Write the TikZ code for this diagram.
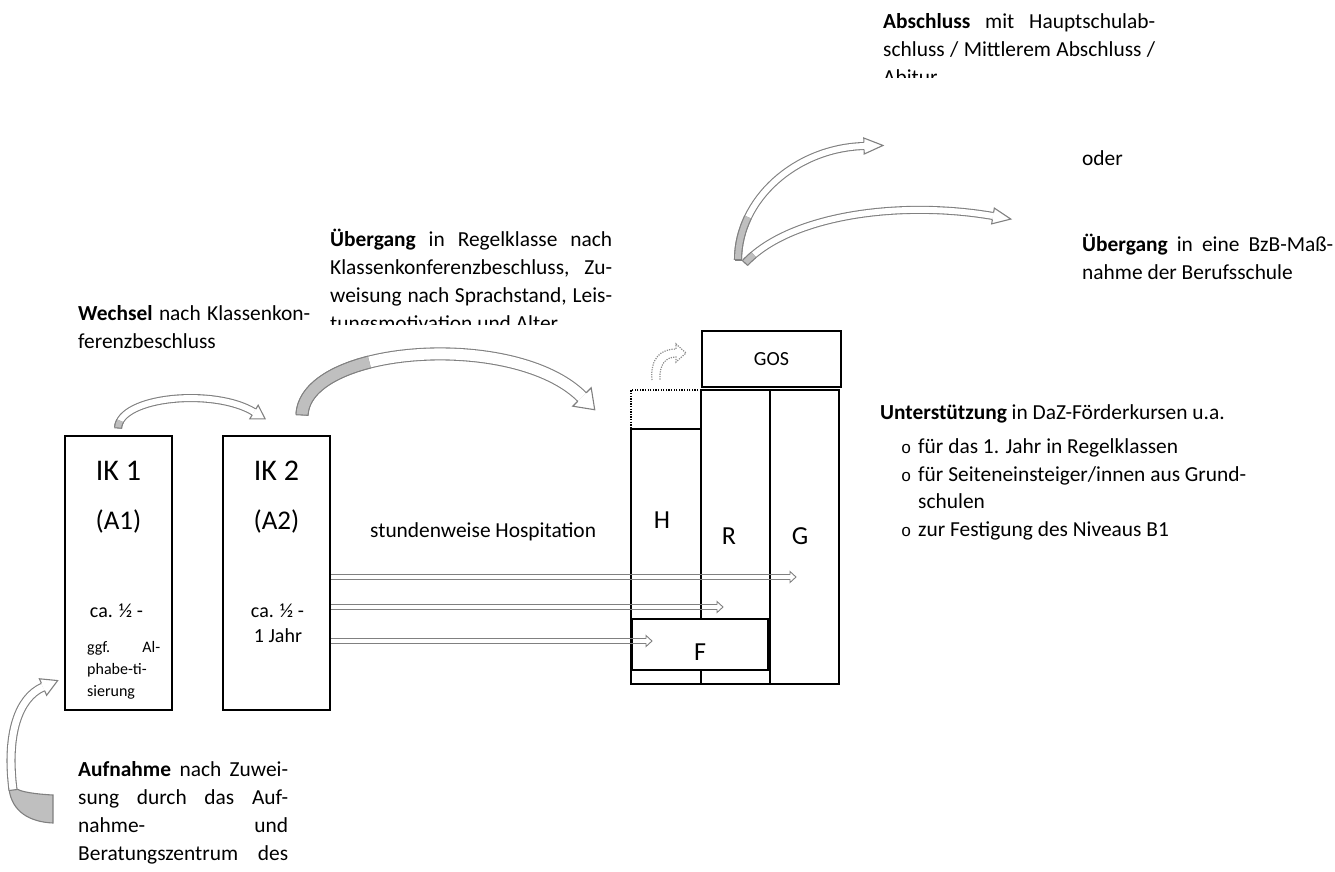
\documentclass[tikz,border=0pt]{standalone}
\usepackage{fontspec}
\setmainfont{Carlito}
\newfontfamily\bulletfont{Liberation Mono}
\usetikzlibrary{calc}

\tikzset{
  bandline/.style={draw=black!50, line width=1.1pt, double=white},
  headline/.style={draw=black!50, line width=1.1pt, line join=miter},
  thinarrow/.style={draw=black!50, line width=0.9pt, line join=miter},
  box/.style={draw=black, line width=1.8pt, inner sep=0pt, outer sep=0pt, anchor=north west},
  txt/.style={inner sep=0pt, anchor=base west, font=\fontsize{21.4}{28}\selectfont, align=left},
  lbl/.style={inner sep=0pt, anchor=base},
  bul/.style={inner sep=0pt, anchor=base west, font=\bulletfont\fontsize{17}{17}\selectfont},
}

% #1 style, #2 start, #3 ctrl1, #4 ctrl2, #5 end, #6 half band, #7 half head, #8 head length, #9 tail fraction
\newcommand{\bandarrow}[9]{%
  \draw[#1, double distance=2*#6pt-1.1pt] (#2) .. controls (#3) and (#4) .. (#5);
  \path ($(#2)!#9!(#3)$) coordinate (bq1) ($(#3)!#9!(#4)$) coordinate (be) ($(#4)!#9!(#5)$) coordinate (bf);
  \path ($(bq1)!#9!(be)$) coordinate (bq2) ($(be)!#9!(bf)$) coordinate (bg);
  \path ($(bq2)!#9!(bg)$) coordinate (bq3);
  \draw[#1, double=black!25, double distance=2*#6pt-1.1pt] (#2) .. controls (bq1) and (bq2) .. (bq3);
  \draw[headline] ($(#2)!#6pt!90:(#3)$) -- ($(#2)!#6pt!-90:(#3)$);
  \path ($(#5)!#6pt!90:(#4)$) coordinate (bb1) ($(#5)!#6pt!-90:(#4)$) coordinate (bb2)
        ($(#5)!#7pt!90:(#4)$) coordinate (bc1) ($(#5)!#7pt!-90:(#4)$) coordinate (bc2)
        ($(#5)!-#8pt!(#4)$) coordinate (bt);
  \fill[white] (bc1) -- (bt) -- (bc2) -- cycle;
  \draw[headline] (bb1) -- (bc1) -- (bt) -- (bc2) -- (bb2);
}

% straight hollow arrow from #1 to #2 (horizontal)
\newcommand{\flatarrow}[2]{%
  \draw[thinarrow] ($(#1)+(0,-2.5)$) -- ($(#2)+(-6,-2.5)$) -- ($(#2)+(-6,-5.5)$) -- (#2)
     -- ($(#2)+(-6,5.5)$) -- ($(#2)+(-6,2.5)$) -- ($(#1)+(0,2.5)$);
}

\begin{document}
\begin{tikzpicture}[x=1pt,y=-1pt]
\useasboundingbox (0,0) rectangle (1335,871);

% ---------- texts ----------
\begin{scope}
  \clip (850,0) rectangle (1200,77);
  \node[txt] (absch) at (883,28) {\parbox[t]{272pt}{\textbf{Abschluss} mit Hauptschulab-\linebreak schluss / Mittlerem Abschluss /\linebreak Abitur}};
\end{scope}

\node[txt] (oder) at (1082,165) {oder};
\node[txt] (bzb) at (1082,251) {\parbox[t]{251pt}{\textbf{Übergang} in eine BzB-Maß-\linebreak nahme der Berufsschule}};

\begin{scope}
  \clip (320,200) rectangle (640,324);
  \node[txt] (uebg) at (330,246) {\parbox[t]{282pt}{\textbf{Übergang} in Regelklasse nach\linebreak Klassenkonferenzbeschluss, Zu-\linebreak weisung nach Sprachstand, Leis-\linebreak tungsmotivation und Alter}};
\end{scope}

\node[txt] (wech) at (78,320) {\parbox[t]{232pt}{\textbf{Wechsel} nach Klassenkon-\linebreak ferenzbeschluss}};

\node[txt] (aufn) at (78,776) {\parbox[t]{210pt}{\textbf{Aufnahme} nach Zuwei-\linebreak sung durch das Auf-\linebreak nahme-\hfill und\linebreak Beratungszentrum\hfill des}};

\node[txt] (unt) at (880,419) {\textbf{Unterstützung} in DaZ-Förderkursen u.a.};
\node[bul] (u1b) at (901,453.5) {o};
\node[txt] (u1) at (918,453.5) {für das 1. Jahr in Regelklassen};
\node[bul] (u2b) at (901,481) {o};
\node[txt] (u2) at (918,481) {für Seiteneinsteiger/innen aus Grund-};
\node[txt] (u2c) at (918,508.5) {schulen};
\node[bul] (u3b) at (901,536) {o};
\node[txt] (u3) at (918,536) {zur Festigung des Niveaus B1};

\node[txt] (hosp) at (370,537) {stundenweise Hospitation};

% ---------- IK boxes ----------
\node[box, minimum width=107pt, minimum height=274pt] (ik1) at (65,436) {};
\node[box, minimum width=107pt, minimum height=274pt] (ik2) at (223,436) {};

\node[lbl, font=\fontsize{30}{34}\selectfont] (ik1t) at (118.5,480) {IK 1};
\node[lbl, font=\fontsize{27}{32}\selectfont] (ik1a) at (118.5,529) {(A1)};
\node[lbl, font=\fontsize{20}{24}\selectfont] (ik1d) at (116.5,617) {ca. ½ -};
\node[txt, font=\fontsize{16}{22}\selectfont] (ik1g) at (87,652) {\parbox[t]{73pt}{ggf. Al-\linebreak phabe-ti-\linebreak sierung}};

\node[lbl, font=\fontsize{30}{34}\selectfont] (ik2t) at (276.5,480) {IK 2};
\node[lbl, font=\fontsize{27}{32}\selectfont] (ik2a) at (276.5,529) {(A2)};
\node[lbl, font=\fontsize{20}{24}\selectfont] (ik2d) at (277.5,617) {ca. ½ -};
\node[lbl, font=\fontsize{20}{24}\selectfont] (ik2e) at (278,642) {1 Jahr};

% ---------- school structure ----------
\node[box, minimum width=70pt, minimum height=255pt] (colH) at (631,429) {};
\node[box, minimum width=69pt, minimum height=294pt] (colR) at (701,390) {};
\node[box, minimum width=69pt, minimum height=294pt] (colG) at (770,390) {};
\node[draw=black, line width=1.3pt, dash pattern=on 1.3pt off 1.3pt, inner sep=0pt, outer sep=0pt,
      anchor=north west, minimum width=70pt, minimum height=39pt] (dotb) at (631,390) {};
\node[box, minimum width=139pt, minimum height=56pt] (gos) at (702,331) {};
\node[box, line width=2.4pt, fill=white, minimum width=136pt, minimum height=51pt] (fbox) at (632,619) {};

\node[lbl, font=\fontsize{20}{24}\selectfont] (gost) at (gos.center |- 0,365) {GOS};
\node[lbl, font=\fontsize{26}{30}\selectfont] (Ht) at (662,528) {H};
\node[lbl, font=\fontsize{26}{30}\selectfont] (Rt) at (729,544) {R};
\node[lbl, font=\fontsize{26}{30}\selectfont] (Gt) at (800,544) {G};
\node[lbl, font=\fontsize{26}{30}\selectfont] (Ft) at (700,660) {F};

% ---------- straight hospitation arrows ----------
\coordinate (h1s) at (331,577); \coordinate (h1e) at (796,577);
\coordinate (h2s) at (331,607); \coordinate (h2e) at (723,607);
\coordinate (h3s) at (331,641); \coordinate (h3e) at (652,641);
\flatarrow{h1s}{h1e}
\flatarrow{h2s}{h2e}
\flatarrow{h3s}{h3e}

% ---------- curved block arrows ----------
% IK1 -> IK2
\coordinate (aA) at (118,428); \coordinate (aC1) at (120,396); \coordinate (aC2) at (215,388); \coordinate (aD) at (254,412);
\bandarrow{bandline}{aA}{aC1}{aC2}{aD}{3.5}{8}{13}{0.08}
% IK2 -> structure
\coordinate (bA) at (302,415); \coordinate (bC1) at (305,345); \coordinate (bC2) at (515,330); \coordinate (bD) at (582,397);
\bandarrow{bandline}{bA}{bC1}{bC2}{bD}{6}{13}{18}{0.36}
% to Abschluss
\coordinate (cA) at (738,260); \coordinate (cC1) at (738,200); \coordinate (cC2) at (795,148); \coordinate (cD) at (864,146);
\bandarrow{bandline}{cA}{cC1}{cC2}{cD}{3.5}{8}{19}{0.25}
% to BzB
\coordinate (dA) at (745,263); \coordinate (dC1) at (790,215); \coordinate (dC2) at (900,200); \coordinate (dD) at (993,216);
\bandarrow{bandline}{dA}{dC1}{dC2}{dD}{3.5}{8}{18}{0.06}

% Aufnahme -> IK1
\draw[headline, fill=black!25] (9,789) .. controls (12,812) and (30,822) .. (53,823) -- (53,795)
      .. controls (35,794) and (22,792) .. (17,789) -- cycle;
\coordinate (eA) at (13,790); \coordinate (eC1) at (6,735); \coordinate (eC2) at (18,698); \coordinate (eD) at (43,687);
\bandarrow{bandline}{eA}{eC1}{eC2}{eD}{4}{9}{16}{0}

% dotted small arrow above H
\draw[draw=black!45, line width=1.2pt, dash pattern=on 1.2pt off 1.2pt]
  (652,380) .. controls (650,358) and (661,349) .. (676,349) -- (676,344) -- (686,353) -- (676,362) -- (676,357)
  .. controls (666,357) and (659,364) .. (660,380);
\end{tikzpicture}
\end{document}
